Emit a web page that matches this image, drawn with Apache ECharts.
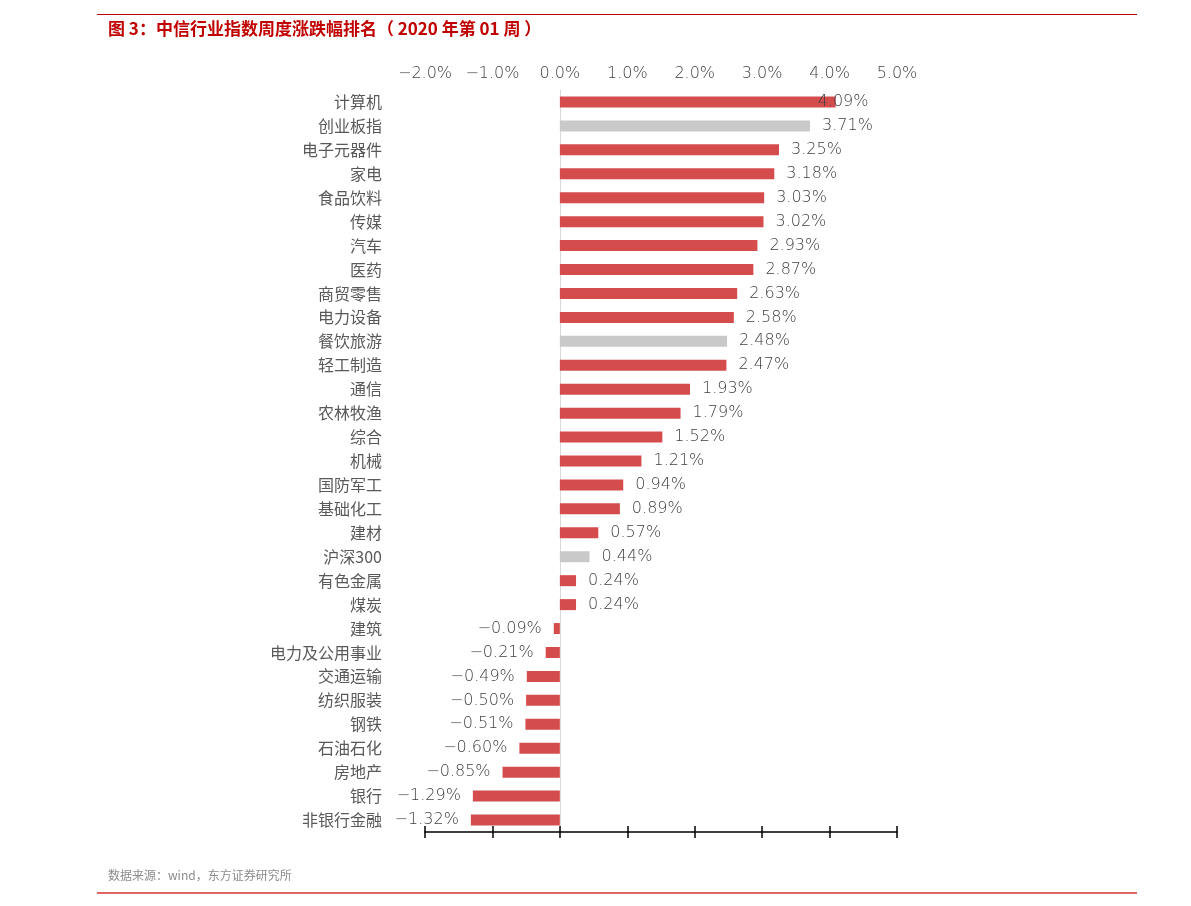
<!DOCTYPE html>
<html>
<head>
<meta charset="utf-8">
<script src="https://cdn.jsdelivr.net/npm/echarts@6/dist/echarts.min.js"></script>
<style>
  html, body { margin: 0; padding: 0; background: #fff; }
  #chart { width: 1191px; height: 906px; }
</style>
</head>
<body>
<div id="chart"></div>
<script>
const industries = [
  '计算机', '创业板指', '电子元器件', '家电', '食品饮料', '传媒', '汽车', '医药',
  '商贸零售', '电力设备', '餐饮旅游', '轻工制造', '通信', '农林牧渔', '综合', '机械',
  '国防军工', '基础化工', '建材', '沪深300', '有色金属', '煤炭', '建筑', '电力及公用事业',
  '交通运输', '纺织服装', '钢铁', '石油石化', '房地产', '银行', '非银行金融'
]
const weeklyChange = [
  4.09, 3.71, 3.25, 3.18, 3.03, 3.02, 2.93, 2.87,
  2.63, 2.58, 2.48, 2.47, 1.93, 1.79, 1.52, 1.21,
  0.94, 0.89, 0.57, 0.44, 0.24, 0.24, -0.09, -0.21,
  -0.49, -0.50, -0.51, -0.60, -0.85, -1.29, -1.32
]
// indices, not industries, drawn in grey
const benchmarks = ['创业板指', '餐饮旅游', '沪深300']
const axisTicks = [-2, -1, 0, 1, 2, 3, 4, 5]

const RED = '#d44c4c'
const GREY = '#c9c9c9'
const TEXT = '#595959'
const NUM_TEXT = '#3f3f3f'
const NUM_FONT = 'DejaVu Sans'

const chart = echarts.init(document.getElementById('chart'), undefined, { renderer: 'canvas' })

const fmtPct = (v) => (v < 0 ? '\u2212' : '') + Math.abs(v).toFixed(2) + '%'

const barData = weeklyChange.map((v, i) => {
  const item = {
    value: v,
    itemStyle: { color: benchmarks.includes(industries[i]) ? GREY : RED },
    label: { position: v < 0 ? 'left' : 'right' },
  }
  // the top label sits over the bar end in the original
  if (i === 0) item.label.offset = [-30, 0]
  return item
})

const xMin = axisTicks[0]
const xMax = axisTicks[axisTicks.length - 1]

const option = {
  animation: false,
  backgroundColor: '#fff',
  grid: { left: 425, right: 294, top: 90, bottom: 74 },
  xAxis: [
    {
      type: 'value', position: 'top', min: xMin, max: xMax, interval: 1,
      axisLine: { show: false }, axisTick: { show: false }, splitLine: { show: false },
      axisLabel: {
        margin: 8, color: NUM_TEXT, fontSize: 16, fontFamily: NUM_FONT, fontWeight: 200,
        formatter: (v) => (v < 0 ? '\u2212' : '') + Math.abs(v).toFixed(1) + '%',
      },
    },
    {
      type: 'value', position: 'bottom', min: xMin, max: xMax, interval: 1,
      axisLine: { show: true, onZero: false, lineStyle: { color: '#000', width: 1.5 } },
      axisTick: { show: true, length: 6, lineStyle: { color: '#000', width: 1.5 } },
      axisLabel: { show: false }, splitLine: { show: false },
    },
    {
      type: 'value', position: 'bottom', min: xMin, max: xMax, interval: 1,
      axisLine: { show: false, onZero: false },
      axisTick: { show: true, inside: true, length: 6, lineStyle: { color: '#000', width: 1.5 } },
      axisLabel: { show: false }, splitLine: { show: false },
    },
  ],
  yAxis: {
    type: 'category', inverse: true, data: industries,
    axisLine: { show: true, onZero: true, lineStyle: { color: '#d9d9d9', width: 1 } },
    axisTick: { show: false },
    axisLabel: { margin: 43, color: TEXT, fontSize: 16, fontFamily: 'Noto Sans CJK SC' },
  },
  series: [{
    type: 'bar', xAxisIndex: 0, data: barData, barWidth: 11,
    label: {
      show: true, distance: 12, color: NUM_TEXT, fontSize: 16,
      fontFamily: NUM_FONT, fontWeight: 200,
      formatter: (p) => fmtPct(p.value),
    },
  }],
  graphic: [
    { type: 'line', shape: { x1: 97, y1: 14.5, x2: 1137, y2: 14.5 }, style: { stroke: '#c00000', lineWidth: 1 } },
    {
      type: 'text', left: 108, top: 20,
      style: {
        text: '图 3：中信行业指数周度涨跌幅排名（ 2020 年第 01 周 ）',
        fill: '#c00000', font: 'bold 17px "Noto Sans CJK SC"',
      },
    },
    {
      type: 'text', left: 108, top: 869,
      style: { text: '数据来源：wind，东方证券研究所', fill: '#8c8c8c', font: '12px "Noto Sans CJK SC"' },
    },
    { type: 'line', shape: { x1: 97, y1: 893, x2: 1137, y2: 893 }, style: { stroke: '#d9302c', lineWidth: 1.5 } },
  ],
}

chart.setOption(option)
</script>
</body>
</html>
